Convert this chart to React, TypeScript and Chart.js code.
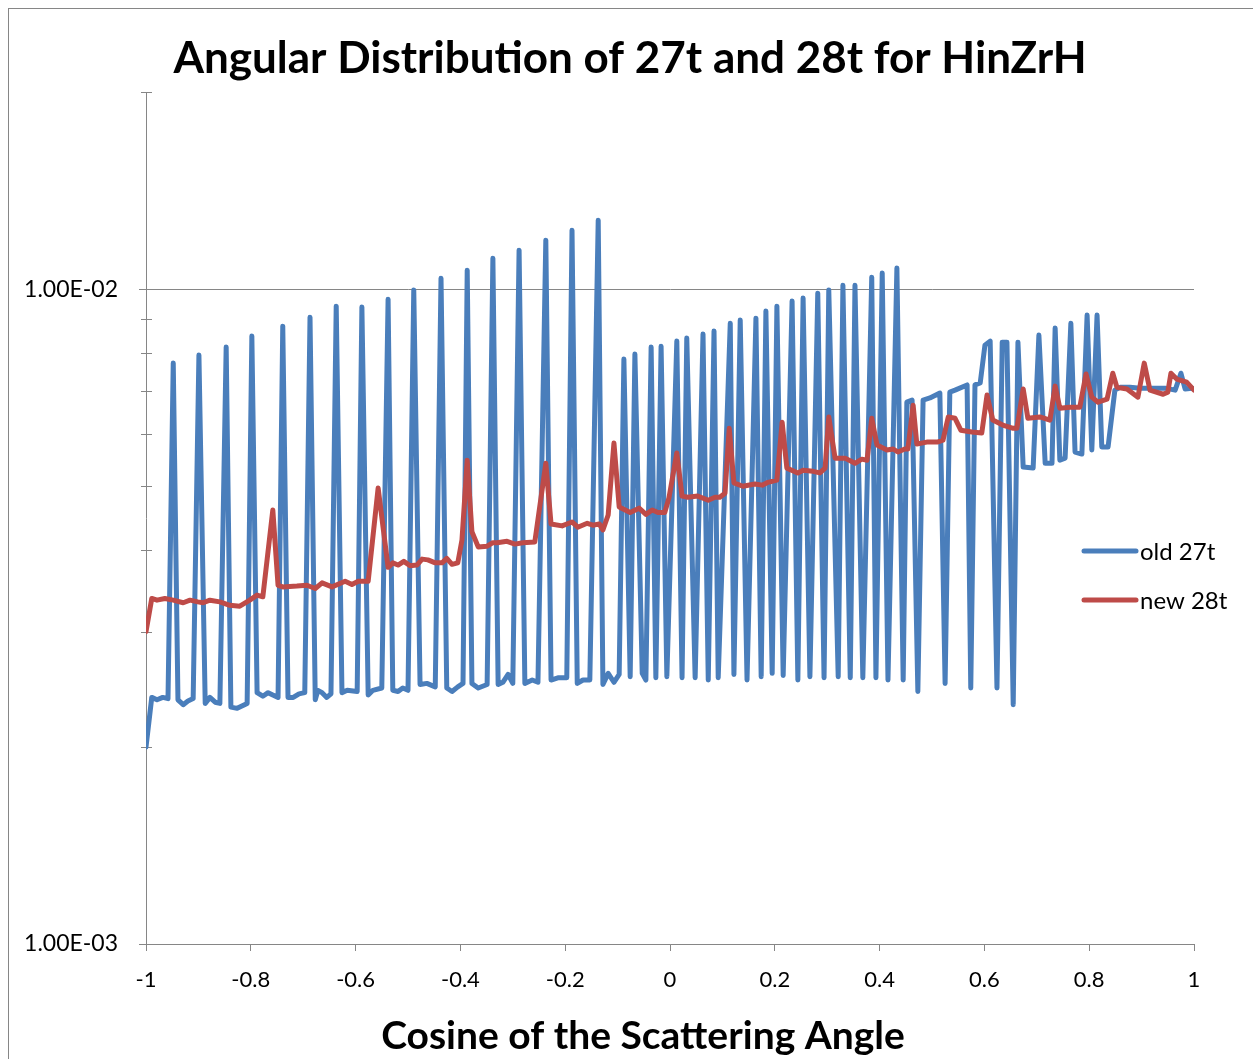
import { useEffect, useRef } from 'react';
import { Chart, registerables } from 'chart.js';

Chart.register(...registerables);

const chartTitle = 'Angular Distribution of 27t and 28t for HinZrH';
const xAxisTitle = 'Cosine of the Scattering Angle';
const seriesNames = ['old 27t', 'new 28t'];
const seriesColors = ['#4A7EBB', '#BE4B48'];
const xTickValues = [-1, -0.8, -0.6, -0.4, -0.2, 0, 0.2, 0.4, 0.6, 0.8, 1];
const xTickLabels = ['-1', '-0.8', '-0.6', '-0.4', '-0.2', '0', '0.2', '0.4', '0.6', '0.8', '1'];
const yTickValues = [0.001, 0.01];
const yTickLabels = ['1.00E-03', '1.00E-02'];
const yMinorTickValues = [0.002, 0.003, 0.004, 0.005, 0.006, 0.007, 0.008, 0.009, 0.02];

const oldX = [-1.000,-0.989,-0.979,-0.968,-0.958,-0.948,-0.939,-0.929,-0.920,-0.910,-0.899,-0.887,-0.878,-0.868,-0.859,-0.847,-0.838,-0.826,-0.807,-0.798,-0.788,-0.777,-0.767,-0.758,-0.748,-0.739,-0.729,-0.719,-0.708,-0.697,-0.687,-0.677,-0.672,-0.664,-0.655,-0.647,-0.637,-0.626,-0.616,-0.597,-0.588,-0.576,-0.567,-0.550,-0.538,-0.529,-0.519,-0.510,-0.500,-0.489,-0.477,-0.464,-0.448,-0.437,-0.426,-0.416,-0.405,-0.395,-0.387,-0.378,-0.366,-0.349,-0.338,-0.328,-0.319,-0.309,-0.300,-0.288,-0.277,-0.263,-0.252,-0.237,-0.227,-0.214,-0.197,-0.187,-0.177,-0.166,-0.153,-0.137,-0.128,-0.118,-0.107,-0.097,-0.088,-0.076,-0.067,-0.053,-0.046,-0.036,-0.027,-0.017,-0.006,0.013,0.023,0.032,0.048,0.063,0.073,0.084,0.092,0.115,0.122,0.134,0.147,0.164,0.174,0.183,0.195,0.204,0.216,0.233,0.244,0.254,0.267,0.282,0.294,0.303,0.321,0.330,0.344,0.353,0.368,0.385,0.393,0.405,0.416,0.433,0.445,0.452,0.462,0.473,0.483,0.496,0.515,0.525,0.534,0.544,0.567,0.574,0.582,0.592,0.601,0.611,0.624,0.634,0.643,0.655,0.664,0.674,0.693,0.704,0.716,0.729,0.735,0.744,0.754,0.765,0.773,0.786,0.796,0.805,0.815,0.824,0.836,0.849,0.859,0.878,0.897,0.916,0.945,0.964,0.975,0.983,0.996];
const oldY = [0.00200,0.00238,0.00236,0.00238,0.00237,0.00771,0.00236,0.00232,0.00235,0.00237,0.00793,0.00233,0.00238,0.00234,0.00233,0.00816,0.00230,0.00229,0.00233,0.00848,0.00242,0.00239,0.00242,0.00240,0.00238,0.00878,0.00238,0.00238,0.00241,0.00242,0.00906,0.00236,0.00244,0.00242,0.00238,0.00241,0.00942,0.00242,0.00244,0.00243,0.00939,0.00240,0.00244,0.00246,0.00965,0.00244,0.00243,0.00246,0.00244,0.00997,0.00249,0.00250,0.00247,0.01039,0.00246,0.00243,0.00247,0.00250,0.01069,0.00250,0.00246,0.00249,0.01115,0.00249,0.00251,0.00258,0.00250,0.01147,0.00250,0.00253,0.00251,0.01188,0.00253,0.00255,0.00255,0.01230,0.00250,0.00253,0.00253,0.01274,0.00249,0.00259,0.00251,0.00258,0.00782,0.00256,0.00796,0.00259,0.00253,0.00816,0.00255,0.00818,0.00256,0.00833,0.00255,0.00842,0.00255,0.00854,0.00253,0.00863,0.00255,0.00887,0.00258,0.00897,0.00253,0.00903,0.00256,0.00926,0.00259,0.00942,0.00257,0.00959,0.00253,0.00969,0.00256,0.00986,0.00255,0.00997,0.00256,0.01014,0.00255,0.01014,0.00255,0.01043,0.00255,0.01058,0.00253,0.01077,0.00253,0.00672,0.00677,0.00243,0.00677,0.00682,0.00694,0.00250,0.00696,0.00701,0.00714,0.00246,0.00714,0.00719,0.00821,0.00833,0.00246,0.00830,0.00830,0.00232,0.00830,0.00535,0.00533,0.00851,0.00542,0.00542,0.00872,0.00548,0.00552,0.00887,0.00564,0.00560,0.00913,0.00568,0.00913,0.00574,0.00574,0.00701,0.00708,0.00708,0.00706,0.00706,0.00706,0.00701,0.00744,0.00704,0.00706];

const newX = [-1.000,-0.989,-0.979,-0.964,-0.948,-0.929,-0.916,-0.901,-0.891,-0.878,-0.859,-0.840,-0.821,-0.802,-0.788,-0.777,-0.758,-0.748,-0.739,-0.712,-0.693,-0.677,-0.664,-0.645,-0.620,-0.607,-0.595,-0.576,-0.557,-0.538,-0.529,-0.519,-0.508,-0.496,-0.483,-0.473,-0.462,-0.448,-0.435,-0.426,-0.416,-0.405,-0.397,-0.387,-0.378,-0.366,-0.349,-0.338,-0.330,-0.311,-0.296,-0.281,-0.258,-0.237,-0.227,-0.206,-0.187,-0.176,-0.158,-0.147,-0.135,-0.128,-0.118,-0.107,-0.097,-0.076,-0.059,-0.046,-0.034,-0.023,-0.010,-0.002,0.013,0.023,0.034,0.053,0.073,0.086,0.095,0.105,0.113,0.122,0.139,0.162,0.176,0.187,0.204,0.214,0.223,0.244,0.254,0.273,0.286,0.296,0.303,0.315,0.334,0.353,0.366,0.376,0.385,0.395,0.414,0.426,0.435,0.448,0.454,0.464,0.471,0.490,0.510,0.521,0.531,0.544,0.555,0.576,0.595,0.605,0.616,0.635,0.655,0.662,0.674,0.683,0.706,0.725,0.735,0.744,0.763,0.782,0.794,0.805,0.817,0.834,0.845,0.853,0.872,0.893,0.905,0.916,0.941,0.950,0.956,0.967,0.986,1.000];
const newY = [0.00300,0.00337,0.00335,0.00337,0.00335,0.00332,0.00335,0.00333,0.00332,0.00335,0.00333,0.00329,0.00328,0.00335,0.00341,0.00339,0.00460,0.00353,0.00351,0.00352,0.00353,0.00349,0.00356,0.00351,0.00358,0.00354,0.00358,0.00358,0.00497,0.00376,0.00382,0.00379,0.00384,0.00378,0.00379,0.00387,0.00386,0.00382,0.00382,0.00388,0.00380,0.00382,0.00414,0.00548,0.00426,0.00404,0.00405,0.00410,0.00410,0.00412,0.00408,0.00410,0.00411,0.00542,0.00438,0.00435,0.00441,0.00433,0.00439,0.00436,0.00438,0.00429,0.00452,0.00582,0.00465,0.00456,0.00463,0.00453,0.00460,0.00456,0.00456,0.00480,0.00562,0.00483,0.00481,0.00483,0.00476,0.00481,0.00481,0.00488,0.00613,0.00506,0.00500,0.00504,0.00502,0.00507,0.00511,0.00626,0.00533,0.00524,0.00529,0.00527,0.00524,0.00533,0.00638,0.00552,0.00552,0.00542,0.00550,0.00548,0.00635,0.00578,0.00568,0.00570,0.00564,0.00570,0.00570,0.00665,0.00580,0.00584,0.00584,0.00588,0.00638,0.00635,0.00609,0.00605,0.00603,0.00689,0.00631,0.00620,0.00613,0.00613,0.00704,0.00635,0.00638,0.00631,0.00711,0.00658,0.00660,0.00660,0.00742,0.00684,0.00672,0.00679,0.00744,0.00708,0.00704,0.00684,0.00771,0.00701,0.00691,0.00696,0.00744,0.00729,0.00721,0.00701];

const AXIS = '#868686';
const FONT = 'Lato';

const decorPlugin = {
  id: 'decor',
  beforeDatasetsDraw(chart: any) {
    const ctx = chart.ctx;
    const ys = chart.scales.y;
    const area = chart.chartArea;
    ctx.save();
    ctx.strokeStyle = AXIS;
    ctx.lineWidth = 1;
    yMinorTickValues.forEach((v) => {
      const py = Math.round(ys.getPixelForValue(v)) + 0.5;
      ctx.beginPath();
      ctx.moveTo(area.left - 5, py);
      ctx.lineTo(area.left + 6, py);
      ctx.stroke();
    });
    ctx.restore();
  },
  afterDraw(chart: any) {
    const ctx = chart.ctx;
    ctx.save();
    ctx.fillStyle = '#000';
    ctx.textAlign = 'center';
    ctx.textBaseline = 'alphabetic';
    ctx.font = `bold 44px ${FONT}`;
    ctx.fillText(chartTitle, 621, 64);
    ctx.font = `bold 39px ${FONT}`;
    ctx.fillText(xAxisTitle, 634, 1040);
    ctx.textAlign = 'left';
    ctx.textBaseline = 'middle';
    ctx.font = `24px ${FONT}`;
    chart.data.datasets.forEach((ds: any, i: number) => {
      const ly = 542 + i * 49;
      ctx.strokeStyle = ds.borderColor;
      ctx.lineWidth = 5;
      ctx.lineCap = 'round';
      ctx.beginPath();
      ctx.moveTo(1075, ly);
      ctx.lineTo(1127, ly);
      ctx.stroke();
      ctx.fillStyle = '#000';
      ctx.fillText(ds.label, 1131, ly + 1);
    });
    ctx.restore();
  },
};

export default function App() {
  const canvasRef = useRef<HTMLCanvasElement | null>(null);

  useEffect(() => {
    if (!canvasRef.current) return;
    const chart = new Chart(canvasRef.current, {
      type: 'line',
      data: {
        datasets: [
          {
            label: seriesNames[0],
            data: oldX.map((x, i) => ({ x, y: oldY[i] })),
            borderColor: seriesColors[0],
            backgroundColor: seriesColors[0],
            borderWidth: 5,
            pointRadius: 0,
            tension: 0,
            fill: false,
            borderJoinStyle: 'round',
            borderCapStyle: 'round',
            order: 2,
          },
          {
            label: seriesNames[1],
            data: newX.map((x, i) => ({ x, y: newY[i] })),
            borderColor: seriesColors[1],
            backgroundColor: seriesColors[1],
            borderWidth: 5,
            pointRadius: 0,
            tension: 0,
            fill: false,
            borderJoinStyle: 'round',
            borderCapStyle: 'round',
            order: 1,
          },
        ],
      },
      options: {
        animation: false,
        responsive: false,
        devicePixelRatio: 1,
        layout: { padding: { top: 83, right: 59, left: 0, bottom: 0 } },
        plugins: {
          legend: { display: false },
          title: { display: false },
          tooltip: { enabled: false },
        },
        scales: {
          x: {
            type: 'linear',
            min: -1,
            max: 1,
            afterBuildTicks: (scale: any) => {
              scale.ticks = xTickValues.map((v) => ({ value: v }));
            },
            afterFit: (scale: any) => {
              scale.height = 115;
            },
            grid: { display: true, drawOnChartArea: false, drawTicks: true, tickLength: 7, color: AXIS },
            border: { display: true, color: AXIS, width: 1 },
            ticks: {
              autoSkip: false,
              maxRotation: 0,
              padding: 16,
              color: '#000',
              font: { family: FONT, size: 22 },
              callback: (_v: any, i: number) => xTickLabels[i],
            },
          },
          y: {
            type: 'logarithmic',
            min: 0.001,
            max: 0.02,
            afterBuildTicks: (scale: any) => {
              scale.ticks = yTickValues.map((v) => ({ value: v }));
            },
            afterFit: (scale: any) => {
              scale.width = 137;
            },
            grid: { display: true, drawTicks: true, tickLength: 7, color: AXIS },
            border: { display: true, color: AXIS, width: 1 },
            ticks: {
              autoSkip: false,
              padding: 21,
              color: '#000',
              font: { family: FONT, size: 23 },
              callback: (_v: any, i: number) => yTickLabels[i],
            },
          },
        },
      } as any,
      plugins: [decorPlugin],
    });
    return () => chart.destroy();
  }, []);

  return (
    <div
      style={{
        position: 'fixed',
        left: 8,
        top: 8,
        width: 1245,
        height: 1051,
        boxSizing: 'border-box',
        borderTop: `1px solid ${AXIS}`,
        borderLeft: `1px solid ${AXIS}`,
        background: '#fff',
      }}
    >
      <canvas ref={canvasRef} width={1244} height={1050} style={{ display: 'block' }} />
    </div>
  );
}
